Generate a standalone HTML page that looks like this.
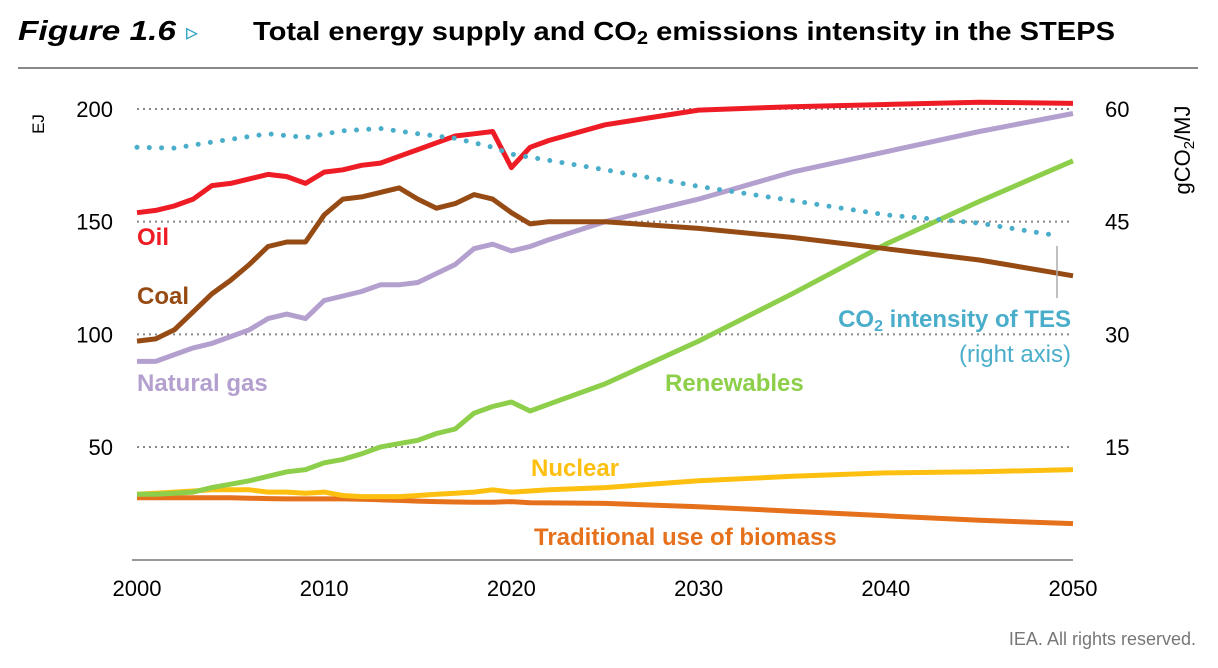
<!DOCTYPE html>
<html><head><meta charset="utf-8"><style>
body{margin:0;background:#fff;width:1218px;height:663px;overflow:hidden;font-family:"Liberation Sans",sans-serif}
</style></head><body>
<svg id="c" width="1218" height="663" xmlns="http://www.w3.org/2000/svg">
<text x="18" y="40" font-size="28" font-weight="bold" font-style="italic" fill="#000" textLength="158" lengthAdjust="spacingAndGlyphs">Figure 1.6</text>
<text x="186" y="40" font-size="24" fill="#2a9fbf">▹</text>
<text x="253" y="40" font-size="26" font-weight="bold" fill="#000" textLength="862" lengthAdjust="spacingAndGlyphs">Total energy supply and CO<tspan font-size="18" dy="4">2</tspan><tspan dy="-4"> emissions intensity in the STEPS</tspan></text>
<line x1="18" y1="68" x2="1198" y2="68" stroke="#888" stroke-width="2"/>
<g id="grid"></g><g id="series"></g><g id="labels"></g>
<text transform="translate(44,124) rotate(-90)" font-size="17" text-anchor="middle">EJ</text>
<text transform="translate(1190,150) rotate(-90)" font-size="22" text-anchor="middle">gCO<tspan font-size="15" dy="4">2</tspan><tspan dy="-4">/MJ</tspan></text>
<line x1="132" y1="560" x2="1073" y2="560" stroke="#999" stroke-width="2"/>
<text x="137" y="245" font-size="24" font-weight="bold" fill="#ee1c25">Oil</text>
<text x="137" y="304" font-size="24" font-weight="bold" fill="#964b14">Coal</text>
<text x="137" y="391" font-size="24" font-weight="bold" fill="#b4a0cf">Natural gas</text>
<text x="665" y="391" font-size="24" font-weight="bold" fill="#8dcf4a">Renewables</text>
<text x="531" y="476" font-size="24" font-weight="bold" fill="#fdc010">Nuclear</text>
<text x="534" y="545" font-size="24" font-weight="bold" fill="#e6711c">Traditional use of biomass</text>
<text x="1071" y="327" font-size="24" font-weight="bold" fill="#4aaecb" text-anchor="end">CO<tspan font-size="16" dy="4">2</tspan><tspan dy="-4"> intensity of TES</tspan></text>
<text x="1071" y="362" font-size="24" fill="#4aaecb" text-anchor="end">(right axis)</text>
<line x1="1057" y1="246" x2="1057" y2="298" stroke="#aaa" stroke-width="1.5"/>
<text x="1196" y="645" font-size="18" fill="#777" text-anchor="end">IEA. All rights reserved.</text>
</svg>
<script>
const years=[2000,2001,2002,2003,2004,2005,2006,2007,2008,2009,2010,2011,2012,2013,2014,2015,2016,2017,2018,2019,2020,2021,2022,2025,2030,2035,2040,2045,2050];
const oil=[154,155,157,160,166,167,169,171,170,167,172,173,175,176,179,182,185,188,189,190,174,183,186,193,199.5,201,202,203,202.5];
const coal=[97,98,102,110,118,124,131,139,141,141,153,160,161,163,165,160,156,158,162,160,154,149,150,150,147,143,138,133,126];
const gas=[88,88,91,94,96,99,102,107,109,107,115,117,119,122,122,123,127,131,138,140,137,139,142,150,160,172,181,190,198];
const renew=[29,29,29.5,30,32,33.5,35,37,39,40,43,44.5,47,50,51.5,53,56,58,65,68,70,66,69,78,97,118,140,159,177];
const nuclear=[29,29.5,30,30.5,31,31,31,30,30,29.5,30,28.5,28,28,28,28.5,29,29.5,30,31,30,30.5,31,32,35,37,38.5,39,40];
const biomass=[27.5,27.5,27.5,27.5,27.5,27.5,27.3,27.1,27,27,27,27,26.8,26.6,26.3,26,25.8,25.6,25.5,25.5,25.8,25.3,25.2,25,23.5,21.5,19.5,17.5,16];
const co2Years=[2000,2002,2004,2007,2009,2011,2013,2015,2017,2019,2020,2025,2030,2035,2040,2045,2049];
const co2=[54.9,54.8,55.6,56.7,56.2,57.1,57.4,56.7,56.1,54.9,54,51.9,49.7,47.8,45.9,44.8,43.2];
const yTicks=[50,100,150,200];
const y2Ticks=[15,30,45,60];
const xTicks=[2000,2010,2020,2030,2040,2050];
const X=y=>137+(y-2000)*(1073-137)/50;
const Y=v=>559.7-v*(559.7-109)/200;
const Y2=v=>559.7-v*(559.7-109)/60;
const NS="http://www.w3.org/2000/svg";
const grid=document.getElementById('grid'),ser=document.getElementById('series');
function mk(t,p,a){const e=document.createElementNS(NS,t);for(const k in a)e.setAttribute(k,a[k]);p.appendChild(e);return e;}
yTicks.forEach((v,i)=>{
 const l=mk('line',grid,{x1:137,x2:1073,y1:Y(v),y2:Y(v),stroke:'#888','stroke-width':2,'stroke-dasharray':'2 4'});
 
 
 const t=mk('text',grid,{x:113,y:Y(v)+8,'font-size':22,'text-anchor':'end'});t.textContent=v;
 
 
 const t2=mk('text',grid,{x:1105,y:Y2(y2Ticks[i])+8,'font-size':22});t2.textContent=y2Ticks[i];
 
 
});
xTicks.forEach(v=>{const t=mk('text',grid,{x:X(v),y:596,'font-size':22,'text-anchor':'middle'});t.textContent=v;
 
 });
function line(vals,col,name,xs,yf,extra){
 const d=vals.map((v,i)=>(i?'L':'M')+X(xs[i]).toFixed(1)+' '+yf(v).toFixed(1)).join(' ');
 const p=mk('path',ser,Object.assign({d:d,fill:'none',stroke:col,'stroke-width':5,'stroke-linejoin':'round'},extra||{}));
 
 
}
line(biomass,'#e6711c','biomass-line',years,Y);
line(nuclear,'#fdc010','nuclear-line',years,Y);
line(renew,'#8dcf4a','renewables-line',years,Y);
line(gas,'#b4a0cf','natural-gas-line',years,Y);
line(coal,'#964b14','coal-line',years,Y);
line(oil,'#ee1c25','oil-line',years,Y);
line(co2,'#4aaecb','co2-intensity-line',co2Years,Y2,{'stroke-width':5,'stroke-dasharray':'0 12.3','stroke-linecap':'round'});
</script>
</body></html>
